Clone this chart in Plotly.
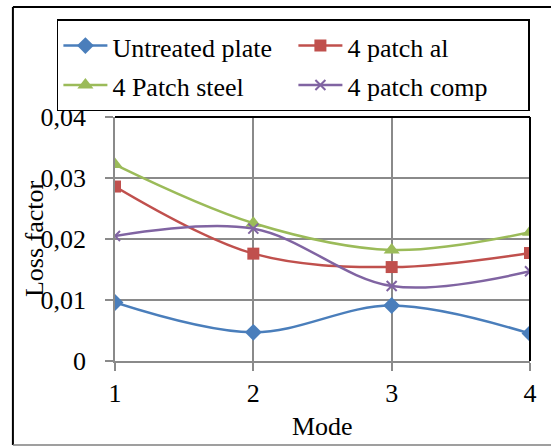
import plotly.graph_objects as go

# Loss factor per mode for each plate configuration
modes = [1, 2, 3, 4]
untreated_plate = [0.0096, 0.0047, 0.0091, 0.0045]
patch_al = [0.0286, 0.0176, 0.0154, 0.0177]
patch_steel = [0.0322, 0.0226, 0.0182, 0.0211]
patch_comp = [0.0205, 0.0217, 0.0123, 0.0147]

y_tickvals = [0, 0.01, 0.02, 0.03, 0.04]
y_ticktext = ["0", "0,01", "0,02", "0,03", "0,04"]
x_tickvals = [1, 2, 3, 4]
x_ticktext = ["1", "2", "3", "4"]

FONT = "Liberation Serif, Times New Roman, serif"
GRID = "#8a8a8a"

series = [
    ("Untreated plate", untreated_plate, "#4A7EBB", "diamond", 13),
    ("4 patch al", patch_al, "#C0504D", "square", 12),
    ("4 Patch steel", patch_steel, "#9BBB59", "triangle-up", 14),
    ("4 patch comp", patch_comp, "#8064A2", "x-thin", 10),
]

fig = go.Figure()
for name, vals, color, symbol, size in series:
    marker = dict(symbol=symbol, size=size, color=color)
    if symbol == "x-thin":
        marker["line"] = dict(color=color, width=2)
    fig.add_trace(go.Scatter(
        x=modes, y=vals,
        name=f"<span style=\"font-family:'Liberation Serif',serif;font-size:26px\">{name}</span>",
        mode="lines+markers",
        line=dict(color=color, width=2.5, shape="spline", smoothing=1),
        marker=marker,
    ))

fig.update_layout(
    width=551, height=446,
    margin=dict(l=115, r=21, t=117, b=85),
    paper_bgcolor="white", plot_bgcolor="white",
    font=dict(family=FONT, size=26, color="black"),
    showlegend=True,
    legend=dict(
        orientation="h",
        x=-0.14, xanchor="left", y=1.40, yanchor="top",
        bordercolor="black", borderwidth=1.5, bgcolor="white",
        entrywidth=176, entrywidthmode="pixels",
        itemwidth=44,
        font=dict(family=FONT, size=28, color="black"),
    ),
    xaxis=dict(
        range=[1, 4], tickvals=x_tickvals, ticktext=x_ticktext,
        showgrid=True, gridcolor=GRID, gridwidth=1.5,
        showline=True, linecolor=GRID, linewidth=1.5,
        ticks="outside", ticklen=8, tickcolor=GRID, tickwidth=1.5,
        ticklabelstandoff=0, zeroline=False,
    ),
    yaxis=dict(
        range=[0, 0.04], tickvals=y_tickvals, ticktext=y_ticktext,
        showgrid=True, gridcolor=GRID, gridwidth=1.5,
        showline=True, linecolor=GRID, linewidth=1.5,
        ticks="outside", ticklen=8, tickcolor=GRID, tickwidth=1.5,
        ticklabelstandoff=14, zeroline=False,
    ),
    annotations=[
        dict(text="Loss factor", xref="paper", yref="paper", x=-0.195, y=0.5,
             textangle=-90, showarrow=False, xanchor="center", yanchor="middle",
             font=dict(family=FONT, size=26)),
        dict(text="Mode", xref="paper", yref="paper", x=0.5, y=-0.27,
             showarrow=False, xanchor="center", yanchor="middle",
             font=dict(family=FONT, size=26)),
    ],
    shapes=[
        # plot frame: top and right edges
        dict(type="line", xref="paper", yref="paper", x0=0, x1=1, y0=1, y1=1,
             line=dict(color="black", width=2)),
        dict(type="line", xref="paper", yref="paper", x0=1, x1=1, y0=0, y1=1,
             line=dict(color="black", width=2)),
        # chart frame
        dict(type="line", xref="paper", yref="paper", x0=-0.246, x1=-0.246, y0=-0.344, y1=1.451,
             line=dict(color="black", width=2)),
        dict(type="line", xref="paper", yref="paper", x0=-0.246, x1=1.1, y0=1.451, y1=1.451,
             line=dict(color="black", width=2)),
        dict(type="line", xref="paper", yref="paper", x0=-0.246, x1=1.1, y0=-0.344, y1=-0.344,
             line=dict(color="#7f7f7f", width=1.5)),
    ],
)

fig.write_html("out.html")
